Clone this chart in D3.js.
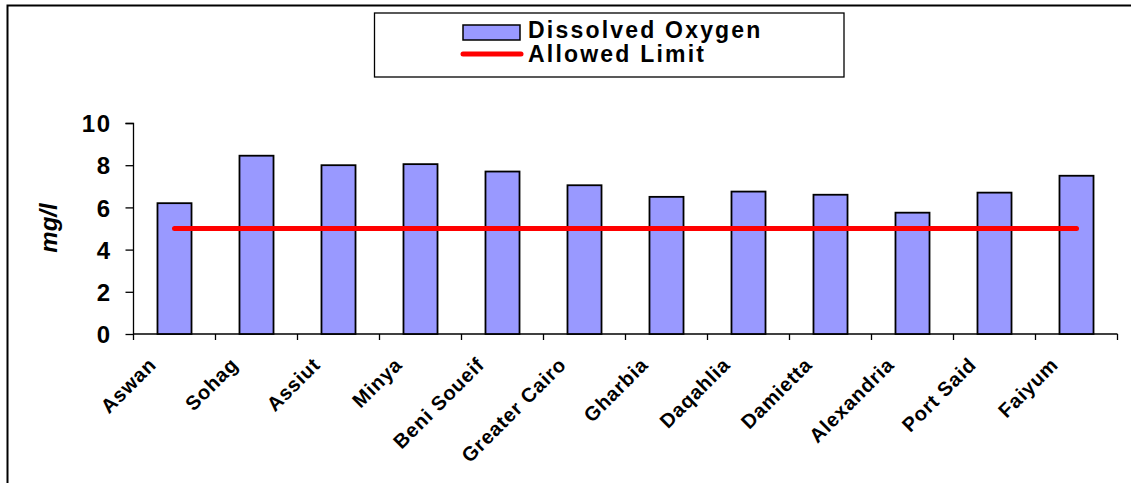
<!DOCTYPE html>
<html>
<head>
<meta charset="utf-8">
<script src="https://cdn.jsdelivr.net/npm/d3@7"></script>
<style>
  html, body { margin: 0; padding: 0; background: #fff; }
  svg { display: block; }
  text { font-family: "Liberation Sans", Arial, sans-serif; font-weight: bold; fill: #000; }
</style>
</head>
<body>
<svg id="chart" width="1131" height="483"></svg>
<script>
// Governorates along the Nile, upstream to downstream
const categories = ["Aswan", "Sohag", "Assiut", "Minya", "Beni Soueif", "Greater Cairo",
  "Gharbia", "Daqahlia", "Damietta", "Alexandria", "Port Said", "Faiyum"];
// Mean dissolved oxygen, mg/l
const dissolvedOxygen = [6.2, 8.45, 8.0, 8.05, 7.7, 7.05, 6.5, 6.75, 6.6, 5.75, 6.7, 7.5];
// Minimum allowed dissolved oxygen, mg/l
const allowedLimit = [5, 5, 5, 5, 5, 5, 5, 5, 5, 5, 5, 5];
const yTicks = [0, 2, 4, 6, 8, 10];

const svg = d3.select("#chart");

// Outer chart frame (top and left edges)
svg.append("path")
  .attr("d", "M7.5,483 L7.5,5.5 L1131,5.5")
  .attr("fill", "none").attr("stroke", "#000").attr("stroke-width", 2);

const x = d3.scaleBand().domain(categories)
  .range([133.5, 1117.5]).paddingInner(0.585).paddingOuter(0.2925);
const y = d3.scaleLinear().domain([0, 10]).range([334, 123]);

// Y axis
const yAxis = svg.append("g").attr("transform", "translate(133.5,0)")
  .call(d3.axisLeft(y).tickValues(yTicks).tickSize(8).tickPadding(14));
yAxis.select(".domain").attr("stroke", "#000").attr("stroke-width", 1.3)
  .attr("d", "M-8,123.5H0V334");
yAxis.selectAll(".tick line").attr("stroke", "#000").attr("stroke-width", 1.3);
yAxis.selectAll(".tick text")
  .style("font-size", "24px").style("letter-spacing", "1.5px")
  .attr("dy", "0.36em");

// X axis line with ticks on band boundaries
const gx = svg.append("g");
gx.append("line")
  .attr("x1", x.range()[0]).attr("x2", x.range()[1])
  .attr("y1", y(0)).attr("y2", y(0))
  .attr("stroke", "#000").attr("stroke-width", 1.3);
const boundaries = d3.range(categories.length + 1).map(i => x.range()[0] + i * x.step());
gx.selectAll("line.tick").data(boundaries).join("line")
  .attr("class", "tick")
  .attr("x1", d => d).attr("x2", d => d)
  .attr("y1", y(0)).attr("y2", y(0) + 6)
  .attr("stroke", "#000").attr("stroke-width", 1.3);

// Bars
svg.append("g").selectAll("rect").data(categories).join("rect")
  .attr("x", d => x(d))
  .attr("y", (d, i) => y(dissolvedOxygen[i]))
  .attr("width", x.bandwidth())
  .attr("height", (d, i) => y(0) - y(dissolvedOxygen[i]))
  .attr("fill", "#9999FF")
  .attr("stroke", "#000").attr("stroke-width", 1.8);

// Allowed limit line
const line = d3.line()
  .x((d, i) => x(categories[i]) + x.bandwidth() / 2)
  .y(d => y(d));
svg.append("path").datum(allowedLimit)
  .attr("d", line)
  .attr("fill", "none").attr("stroke", "#FF0000")
  .attr("stroke-width", 5).attr("stroke-linecap", "round");

// Category labels, rotated
svg.append("g").selectAll("text").data(categories).join("text")
  .attr("transform", d => `translate(${x(d) + x.bandwidth() / 2 - 17},${y(0) + 32}) rotate(-45)`)
  .attr("text-anchor", "end")
  .style("font-size", "20px").style("letter-spacing", "0.8px")
  .text(d => d);

// Y axis title
svg.append("text")
  .attr("transform", "translate(57,228) rotate(-90)")
  .attr("text-anchor", "middle")
  .style("font-size", "24px").style("font-style", "italic")
  .text("mg/l");

// Legend
const legend = svg.append("g");
legend.append("rect")
  .attr("x", 374.5).attr("y", 13).attr("width", 469.5).attr("height", 64)
  .attr("fill", "#fff").attr("stroke", "#000").attr("stroke-width", 1.3);
legend.append("rect")
  .attr("x", 463).attr("y", 25).attr("width", 57).attr("height", 15)
  .attr("fill", "#9999FF").attr("stroke", "#000").attr("stroke-width", 1.5);
legend.append("line")
  .attr("x1", 463).attr("x2", 521).attr("y1", 54).attr("y2", 54)
  .attr("stroke", "#FF0000").attr("stroke-width", 5).attr("stroke-linecap", "round");
legend.append("text").attr("x", 528).attr("y", 38)
  .style("font-size", "23px").style("letter-spacing", "2.2px")
  .text("Dissolved Oxygen");
legend.append("text").attr("x", 528).attr("y", 62)
  .style("font-size", "23px").style("letter-spacing", "2.2px")
  .text("Allowed Limit");
</script>
</body>
</html>
